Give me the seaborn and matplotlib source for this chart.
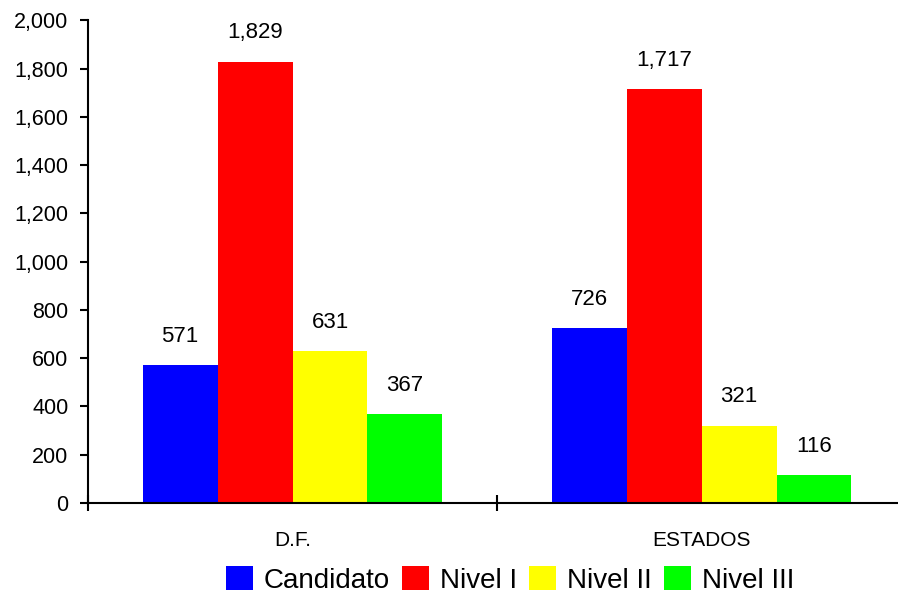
import pandas as pd
import matplotlib.pyplot as plt
import matplotlib.ticker as mticker
import seaborn as sns

sns.set_style('white')
plt.rcParams['font.family'] = ['Liberation Sans', 'DejaVu Sans']
plt.rcParams['text.color'] = 'black'
plt.rcParams['xtick.color'] = 'black'
plt.rcParams['ytick.color'] = 'black'

groups = ['D.F.', 'ESTADOS']
levels = ['Candidato', 'Nivel I', 'Nivel II', 'Nivel III']
df_values = [571, 1829, 631, 367]
estados_values = [726, 1717, 321, 116]
colors = ['#0000ff', '#ff0000', '#ffff00', '#00ff00']

data = pd.DataFrame({
    'grupo': [groups[0]] * 4 + [groups[1]] * 4,
    'nivel': levels + levels,
    'valor': df_values + estados_values,
})

fig = plt.figure(figsize=(8.98, 5.96), dpi=100)
ax = fig.add_axes([0.098, 0.156, 0.911, 0.81])

sns.barplot(data=data, x='grupo', y='valor', hue='nivel', hue_order=levels,
            palette=colors, width=0.733, saturation=1, gap=0, ax=ax,
            errorbar=None, legend=True, linewidth=0)

for cont in ax.containers:
    ax.bar_label(cont, labels=['{:,.0f}'.format(v) for v in cont.datavalues],
                 padding=13, fontsize=16, color='black')

ax.set_xlim(-0.5, 1.5)
ax.set_ylim(0, 2000)
ax.yaxis.set_major_locator(mticker.MultipleLocator(200))
ax.yaxis.set_major_formatter(mticker.FuncFormatter(lambda v, p: '{:,.0f}'.format(v)))
ax.set_xlabel('')
ax.set_ylabel('')

sns.despine(ax=ax, top=True, right=True)
for s in ['left', 'bottom']:
    ax.spines[s].set_linewidth(1.5)
    ax.spines[s].set_color('black')

ax.tick_params(axis='y', direction='out', length=6, width=1.5, left=True,
               labelsize=15.5, pad=8)
ax.tick_params(axis='x', which='major', length=0, labelsize=15, pad=20)
ax.set_xticks([-0.5, 0.5, 1.5], minor=True)
ax.tick_params(axis='x', which='minor', direction='inout', length=12, width=1.5, bottom=True)

handles, labels = ax.get_legend_handles_labels()
ax.get_legend().remove()
fig.legend(handles, labels, loc='center', bbox_to_anchor=(0.568, 0.027), ncol=4,
           frameon=False, fontsize=20, handlelength=0.95, handleheight=0.95,
           handletextpad=0.4, columnspacing=0.45, borderaxespad=0)

fig.savefig('out.png', dpi=100)
